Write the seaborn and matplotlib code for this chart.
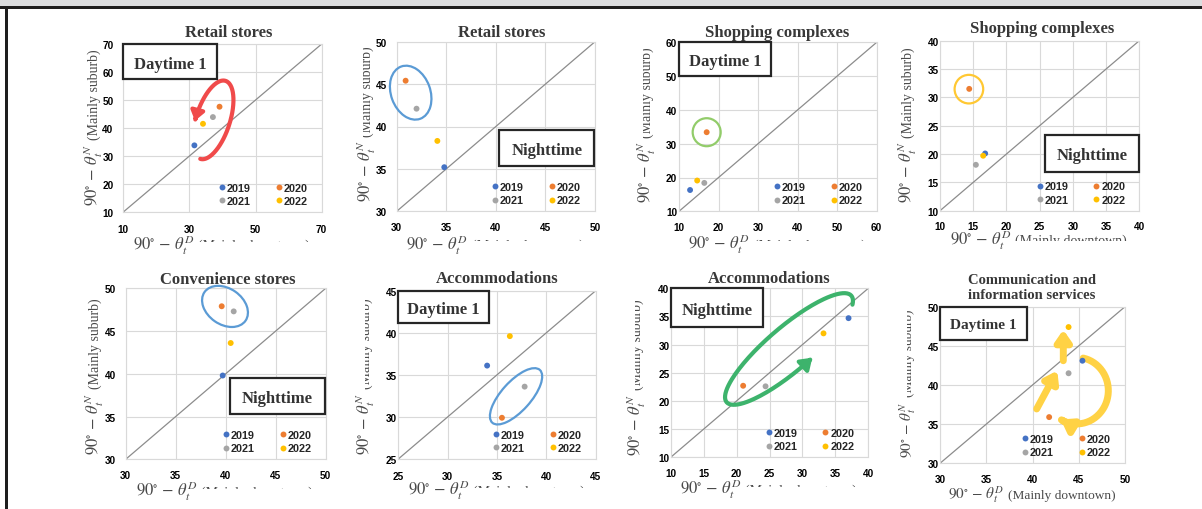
import matplotlib
matplotlib.use("Agg")
import matplotlib.pyplot as plt
import matplotlib.transforms as mtransforms
from matplotlib.patches import Rectangle, Ellipse, FancyArrowPatch
from matplotlib.path import Path
import numpy as np
import pandas as pd
import seaborn as sns

sns.set_theme(style="whitegrid")
plt.rcParams.update({
    "font.family": ["Liberation Serif", "DejaVu Serif"],
    "mathtext.fontset": "stix",
    "axes.edgecolor": "#D9D9D9",
    "axes.linewidth": 0.8,
    "grid.color": "#D9D9D9",
    "grid.linewidth": 0.8,
})

W, H = 1202, 510
SANS = ["Liberation Sans", "DejaVu Sans"]
TITLE_C = "#383838"
LABEL_C = "#4A4A4A"

years = ["2019", "2020", "2021", "2022"]
year_colors = ["#4472C4", "#ED7D31", "#A5A5A5", "#FFC000"]

# 90 - theta values per panel, in year order (2019..2022)
retail_day_x = [31.5, 39.1, 37.1, 34.1]
retail_day_y = [33.8, 47.6, 43.9, 41.5]
retail_night_x = [34.8, 30.9, 32.0, 34.1]
retail_night_y = [35.2, 45.4, 42.1, 38.3]
shop_day_x = [12.8, 17.0, 16.4, 14.6]
shop_day_y = [16.3, 33.4, 18.4, 19.1]
shop_night_x = [16.8, 14.4, 15.4, 16.5]
shop_night_y = [20.1, 31.5, 18.1, 19.7]
conv_night_x = [39.7, 39.6, 40.8, 40.5]
conv_night_y = [39.8, 47.9, 47.3, 43.6]
accom_day_x = [34.0, 35.5, 37.8, 36.3]
accom_day_y = [36.1, 29.9, 33.6, 39.6]
accom_night_x = [37.0, 21.0, 24.4, 33.2]
accom_night_y = [34.7, 22.7, 22.6, 32.0]
comm_day_x = [45.4, 41.8, 43.9, 43.9]
comm_day_y = [43.1, 35.9, 41.5, 47.4]

titles = ["Retail stores", "Retail stores", "Shopping complexes", "Shopping complexes",
          "Convenience stores", "Accommodations", "Accommodations",
          "Communication and\ninformation services"]
tags = ["Daytime 1", "Nighttime", "Daytime 1", "Nighttime",
        "Nighttime", "Daytime 1", "Nighttime", "Daytime 1"]
axis_ranges = [(10, 70), (30, 50), (10, 60), (10, 40), (30, 50), (25, 45), (10, 40), (30, 50)]
x_steps = [20, 5, 10, 5, 5, 5, 5, 5]
y_steps = [10, 5, 10, 5, 5, 5, 5, 5]
series = [(retail_day_x, retail_day_y), (retail_night_x, retail_night_y),
          (shop_day_x, shop_day_y), (shop_night_x, shop_night_y),
          (conv_night_x, conv_night_y), (accom_day_x, accom_day_y),
          (accom_night_x, accom_night_y), (comm_day_x, comm_day_y)]

# ---- layout (pixels of the 1202x510 picture) ----
axes_px = [(123.3, 45, 321.7, 213), (396.7, 42.7, 595, 212.3), (679, 43.3, 876.7, 212.3),
           (940, 41.7, 1139.3, 211.7), (125.7, 289.3, 325.7, 460.3), (398.3, 291.7, 595.7, 460),
           (670.7, 289.3, 868.3, 458.3), (940, 307.7, 1125, 464.3)]
title_px = [(229, 37.3), (501.7, 37.3), (777.5, 37), (1042, 33), (227.7, 284),
            (496.7, 283.3), (769.3, 283.3), (1031.7, 299)]
# tag box corners in data units
tag_box = [(10, 57.5, 38.2, 70), (40.35, 35.4, 49.9, 39.55), (10, 50.1, 33.2, 60),
           (25.8, 16.9, 40, 23.35), (40.43, 35.3, 49.9, 39.5), (25, 41.16, 34.2, 45),
           (10, 33.1, 24.06, 40), (30, 45.74, 39.37, 50)]
# x label: baseline y, clip y ; y label: baseline x, centre y, clip x
xlab = [(250, 243), (250, 242), (249.5, 242), (245, 241.5),
        (496.5, 489.5), (495.5, 488.5), (494.5, 487.5), (499, None)]
ylab = [(98, 127.5, None), (371, 124, 362.5), (651, 125, 643), (912, 125, None),
        (99, 376.5, None), (370, 376.5, 365), (641, 377.5, 635), (912, 383.5, 907)]
ytick_pad = [7, 7, 1.2, 0.8, 7, 1.2, 0.8, 0.8]
xtick_pad = [8.5, 8, 8, 7.5, 8, 8.5, 7.5, 7.5]

fig = plt.figure(figsize=(W / 100, H / 100), dpi=100)
fig.patch.set_facecolor("white")
rend = fig.canvas.get_renderer()


def fxy(x, y):
    return x / W, 1 - y / H


def px_at(ax, x, y):
    return fig.dpi_scale_trans + mtransforms.ScaledTranslation(x, y, ax.transData)


def two_part_label(math, words, msize, wsize, anchor, center, vertical, clip):
    m = fig.text(0, 0, math, fontsize=msize, color=LABEL_C, ha="left", va="baseline")
    w = fig.text(0, 0, words, fontsize=wsize, color=LABEL_C, ha="left", va="baseline")
    wm = m.get_window_extent(rend).width
    ww = w.get_window_extent(rend).width
    gap = 4
    total = wm + gap + ww
    if vertical:
        for t in (m, w):
            t.set_rotation(90)
            t.set_rotation_mode("anchor")
        bottom = center + total / 2
        m.set_position(fxy(anchor, bottom))
        w.set_position(fxy(anchor, bottom - wm - gap))
        box = mtransforms.Bbox.from_extents(clip / W, 0, 1, 1) if clip else None
    else:
        start = center - total / 2
        m.set_position(fxy(start, anchor))
        w.set_position(fxy(start + wm + gap, anchor))
        box = mtransforms.Bbox.from_extents(0, 1 - clip / H, 1, 1) if clip else None
    if box is not None:
        w.set_clip_box(mtransforms.TransformedBbox(box, fig.transFigure))
        w.set_clip_on(True)


def ring(ax, cx, cy, w, h, ang, color):
    ax.add_patch(Ellipse((0, 0), w / fig.dpi, h / fig.dpi, angle=ang, fill=False,
                         ec=color, lw=1.6, transform=px_at(ax, cx, cy),
                         zorder=7, clip_on=False))


def loop_arrow(ax, cx, cy, a, b, ang, t0, t1, color, lw, hl, hw):
    t = np.linspace(t0, t1, 150)
    c, s = np.cos(np.deg2rad(ang)), np.sin(np.deg2rad(ang))
    ex, ey = a * np.cos(t), b * np.sin(t)
    verts = np.column_stack([c * ex - s * ey, s * ex + c * ey]) / fig.dpi
    ax.add_patch(FancyArrowPatch(path=Path(verts),
                                 arrowstyle=f"-|>,head_length={hl},head_width={hw}",
                                 mutation_scale=10, lw=lw, color=color,
                                 transform=px_at(ax, cx, cy), zorder=4, clip_on=False))


def straight_arrow(ax, p0, p1, color, lw, hl, hw):
    ax.add_patch(FancyArrowPatch(p0, p1, arrowstyle=f"-|>,head_length={hl},head_width={hw}",
                                 mutation_scale=10, lw=lw, color=color, shrinkA=0, shrinkB=0,
                                 zorder=4, clip_on=False))


axes = []
for i, (xs, ys) in enumerate(series):
    l, t, r, b = axes_px[i]
    ax = fig.add_axes([l / W, 1 - b / H, (r - l) / W, (b - t) / H])
    axes.append(ax)
    lo, hi = axis_ranges[i]
    df = pd.DataFrame({"x": xs, "y": ys, "year": years})
    sns.scatterplot(data=df, x="x", y="y", hue="year",
                    hue_order=["2019", "2021", "2020", "2022"],
                    palette=dict(zip(years, year_colors)), s=18, linewidth=0,
                    zorder=6, ax=ax)
    ax.axline((lo, lo), slope=1, color="#8C8C8C", lw=0.9, zorder=2)
    ax.set_xlim(lo, hi)
    ax.set_ylim(lo, hi)
    ax.set_xticks(np.arange(lo, hi + 1, x_steps[i]))
    ax.set_yticks(np.arange(lo, hi + 1, y_steps[i]))
    ax.set_xlabel("")
    ax.set_ylabel("")
    ax.tick_params(axis="x", length=0, pad=xtick_pad[i], labelsize=7.2, labelcolor="black")
    ax.tick_params(axis="y", length=0, pad=ytick_pad[i], labelsize=7.2, labelcolor="black")
    for lab in ax.get_xticklabels() + ax.get_yticklabels():
        lab.set_fontfamily(SANS)
        lab.set_fontweight("bold")
    for sp in ax.spines.values():
        sp.set_color("#D9D9D9")
        sp.set_linewidth(0.8)

    shift = 8 / (r - l)
    sns.move_legend(ax, "lower right", bbox_to_anchor=(1 - shift, 0), ncol=2, title=None,
                    frameon=False, prop={"family": SANS, "weight": "bold", "size": 7.8},
                    handlelength=0.6, handletextpad=0.15, columnspacing=2.3,
                    labelspacing=0.3, borderaxespad=0.25, borderpad=0.3, markerscale=1.0)

    # tag box
    x0, y0, x1, y1 = tag_box[i]
    ax.add_patch(Rectangle((x0, y0), x1 - x0, y1 - y0, facecolor="white",
                           edgecolor="#262626", lw=1.6, zorder=8, clip_on=False))
    ax.text((x0 + x1) / 2, (y0 + y1) / 2, tags[i], ha="center", va="center_baseline",
            fontsize=11 if i == 7 else 12, fontweight="bold", color="#333333", zorder=9)

    # title
    tx, ty = title_px[i]
    fig.text(*fxy(tx, ty), titles[i], ha="center", va="baseline",
             fontsize=10.5 if i == 7 else 12, fontweight="bold", color=TITLE_C,
             linespacing=1.2)

    # axis labels
    msize, wsize = (11, 9.6) if i == 7 else (12, 10)
    cx = (l + r) / 2 - 1
    two_part_label(r"$90^{\circ}\ {-}\ \theta_t^{D}$", "(Mainly downtown)", msize, wsize,
                   xlab[i][0], cx, False, xlab[i][1])
    two_part_label(r"$90^{\circ}\ {-}\ \theta_t^{N}$", "(Mainly suburb)", msize, wsize,
                   ylab[i][0], ylab[i][1], True, ylab[i][2])

# ---- annotations: rings and arrows ----
BLUE_RING = "#5B9BD5"
ring(axes[1], 31.41, 43.99, 55.6, 39.3, 110, BLUE_RING)
ring(axes[2], 17.0, 33.4, 28, 28, 0, "#92CC6A")
ring(axes[3], 14.35, 31.45, 28.6, 28.6, 0, "#FFC833")
ring(axes[4], 39.93, 47.88, 50, 36, -35, BLUE_RING)
ring(axes[5], 36.93, 32.45, 71, 29.4, 48, BLUE_RING)

loop_arrow(axes[0], 37.1, 42.9, 41, 17, 72, np.pi, 2.55 * np.pi, "#F04A4A", 3.0, 0.55, 0.4)
loop_arrow(axes[6], 27.96, 29.23, 82, 22, 40.5, -0.35, 4.86, "#3DB36C", 3.0, 0.65, 0.45)
YEL = "#FFD245"
loop_arrow(axes[7], 44.77, 39.28, 31.7, 33.3, 0, np.deg2rad(78), np.deg2rad(-120), YEL, 5.0, 0.65, 0.45)
straight_arrow(axes[7], (40.45, 36.94), (42.68, 41.83), YEL, 5.0, 0.65, 0.45)
straight_arrow(axes[7], (43.33, 43.1), (43.33, 47.06), YEL, 5.0, 0.65, 0.45)

# ---- screenshot frame ----
def frame_rect(x0, y0, x1, y1, color):
    fig.add_artist(Rectangle(fxy(x0, y1), (x1 - x0) / W, (y1 - y0) / H,
                             transform=fig.transFigure, color=color, lw=0, zorder=20))

frame_rect(0, 0, W, 6.7, "#DCDDDF")
frame_rect(0, 6.7, W, 10, "#1E1E1E")
frame_rect(5, 6.7, 8.3, H, "#1E1E1E")

fig.savefig("out.png", dpi=100, facecolor="white")
